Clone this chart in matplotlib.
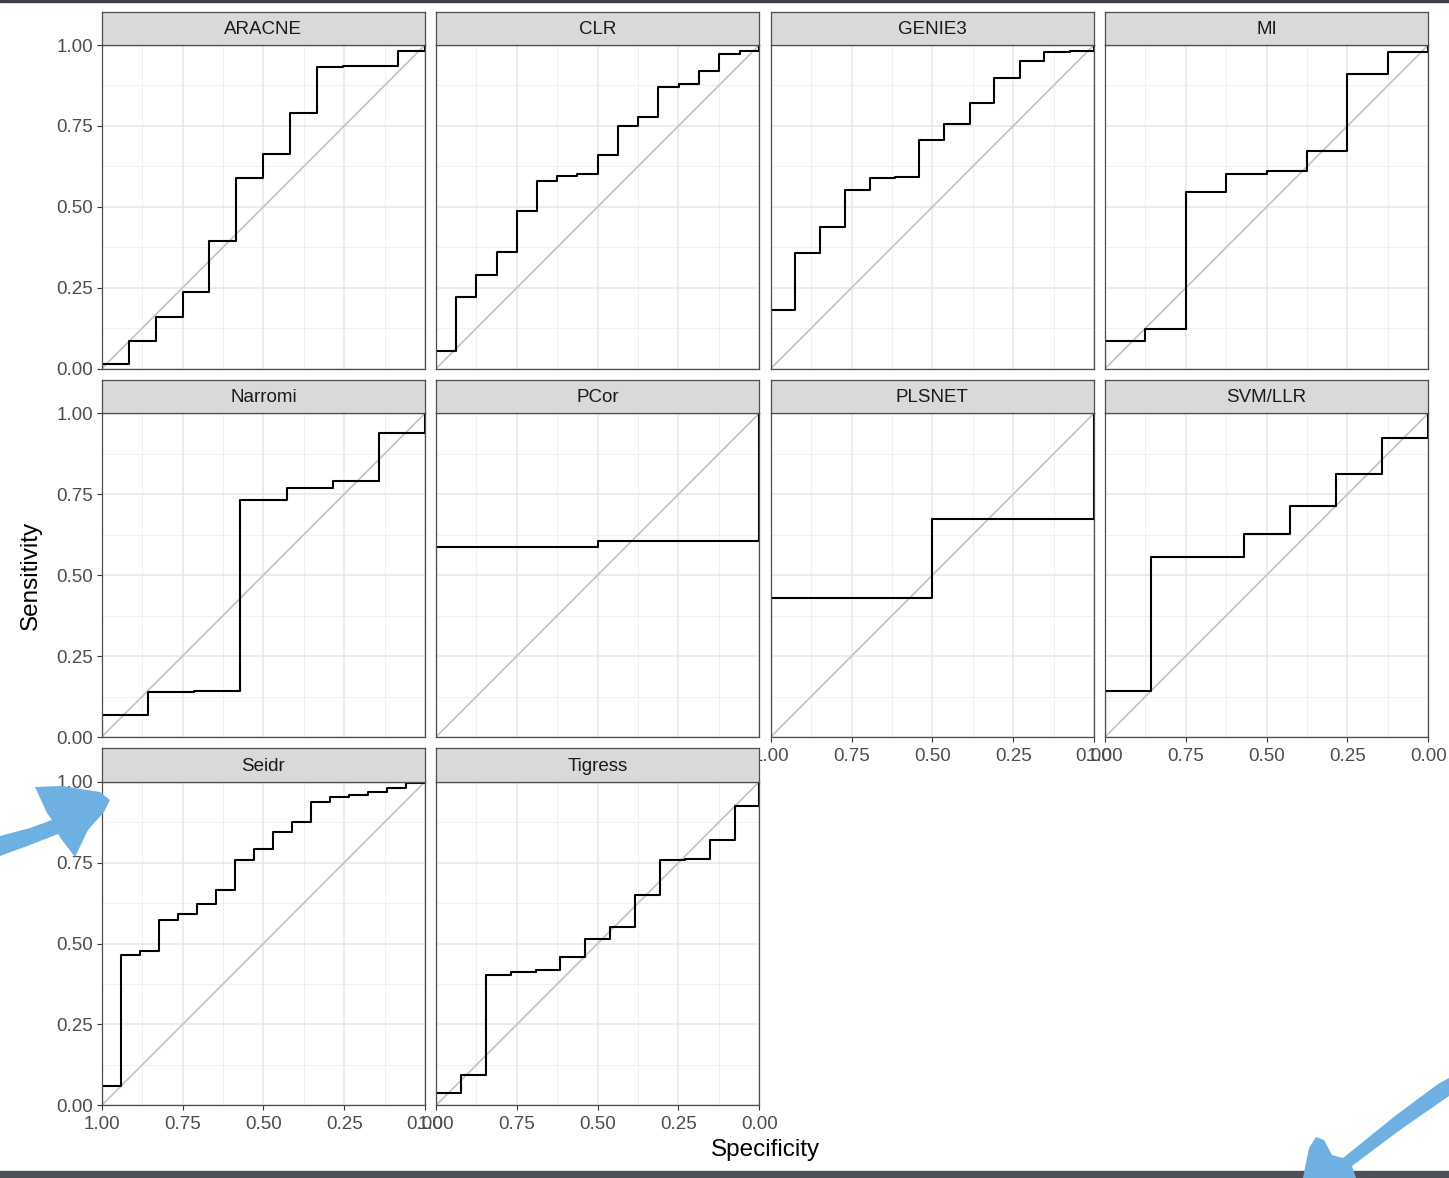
import numpy as np
import matplotlib
matplotlib.use("Agg")
import matplotlib.pyplot as plt
from matplotlib.patches import Polygon, Rectangle

plt.rcParams['font.family'] = ['Liberation Sans', 'DejaVu Sans']

# ROC points per method: specificity / sensitivity pairs, from (1, 0) to (0, 1)
aracne_spec = [1, 1, 0.915, 0.833, 0.75, 0.667, 0.584, 0.5, 0.418, 0.334, 0.253, 0.082, 0]
aracne_sens = [0, 0.015, 0.085, 0.16, 0.237, 0.395, 0.588, 0.662, 0.789, 0.933, 0.936, 0.981, 1]

clr_spec = [1, 1, 0.937, 0.875, 0.812, 0.75, 0.688, 0.625, 0.563, 0.5, 0.436, 0.374, 0.312, 0.249, 0.188, 0.125, 0.06, 0]
clr_sens = [0, 0.055, 0.222, 0.289, 0.359, 0.487, 0.579, 0.594, 0.602, 0.661, 0.751, 0.779, 0.870, 0.880, 0.920, 0.972, 0.981, 1]

genie3_spec = [1, 1, 0.924, 0.847, 0.769, 0.693, 0.617, 0.54, 0.463, 0.385, 0.308, 0.23, 0.154, 0.073, 0]
genie3_sens = [0, 0.180, 0.358, 0.439, 0.552, 0.590, 0.592, 0.707, 0.757, 0.822, 0.899, 0.952, 0.979, 0.981, 1]

mi_spec = [1, 1, 0.875, 0.75, 0.626, 0.5, 0.375, 0.251, 0.126, 0]
mi_sens = [0, 0.085, 0.122, 0.546, 0.601, 0.612, 0.672, 0.911, 0.977, 1]

narromi_spec = [1, 1, 0.856, 0.714, 0.571, 0.428, 0.284, 0.142, 0]
narromi_sens = [0, 0.067, 0.139, 0.141, 0.732, 0.769, 0.791, 0.938, 1]

pcor_spec = [1, 1, 0.5, 0]
pcor_sens = [0, 0.586, 0.604, 1]

plsnet_spec = [1, 1, 0.5, 0]
plsnet_sens = [0, 0.429, 0.673, 1]

svm_spec = [1, 1, 0.857, 0.571, 0.429, 0.286, 0.143, 0]
svm_sens = [0, 0.141, 0.556, 0.627, 0.713, 0.812, 0.924, 1]

seidr_spec = [1, 1, 0.941, 0.881, 0.823, 0.763, 0.704, 0.646, 0.588, 0.529, 0.469, 0.411, 0.353, 0.294, 0.235, 0.176, 0.118, 0.058, 0]
seidr_sens = [0, 0.061, 0.465, 0.476, 0.574, 0.591, 0.621, 0.664, 0.758, 0.791, 0.844, 0.876, 0.938, 0.952, 0.960, 0.969, 0.979, 0.995, 1]

tigress_spec = [1, 1, 0.923, 0.845, 0.768, 0.691, 0.615, 0.538, 0.461, 0.385, 0.307, 0.231, 0.152, 0.075, 0]
tigress_sens = [0, 0.039, 0.095, 0.403, 0.411, 0.418, 0.458, 0.515, 0.551, 0.649, 0.757, 0.762, 0.821, 0.925, 1]

methods = ["ARACNE", "CLR", "GENIE3", "MI", "Narromi", "PCor", "PLSNET", "SVM/LLR", "Seidr", "Tigress"]
curves = [(aracne_spec, aracne_sens), (clr_spec, clr_sens), (genie3_spec, genie3_sens),
          (mi_spec, mi_sens), (narromi_spec, narromi_sens), (pcor_spec, pcor_sens),
          (plsnet_spec, plsnet_sens), (svm_spec, svm_sens), (seidr_spec, seidr_sens),
          (tigress_spec, tigress_sens)]

ticks = [1.00, 0.75, 0.50, 0.25, 0.00]
tick_labels = ["1.00", "0.75", "0.50", "0.25", "0.00"]

W, H = 1449, 1178
fig = plt.figure(figsize=(W / 100, H / 100), dpi=100)
fig.patch.set_facecolor("white")

# facet layout in pixels
lefts = [101.7, 436.0, 770.7, 1105.0]
tops = [45.0, 413.3, 781.7]
pw, ph = 323.3, 323.7
strip_h = 33.3
ncol = 4
n = len(methods)

edge = "#4d4d4d"

for i, (name, (spec, sens)) in enumerate(zip(methods, curves)):
    r, c = divmod(i, ncol)
    x0 = lefts[c]
    y0 = tops[r]
    ax = fig.add_axes([x0 / W, 1 - (y0 + ph) / H, pw / W, ph / H])
    ax.set_xlim(1, 0)
    ax.set_ylim(0, 1)

    # grid like theme_bw
    for v in np.arange(0.125, 1, 0.25):
        ax.axvline(v, color="#f0ecee", lw=0.6, zorder=0)
        ax.axhline(v, color="#f0ecee", lw=0.6, zorder=0)
    for v in ticks:
        ax.axvline(v, color="#ebe6e8", lw=1.1, zorder=0)
        ax.axhline(v, color="#ebe6e8", lw=1.1, zorder=0)

    ax.plot([1, 0], [0, 1], color="#c4c4c4", lw=1.25, zorder=1)
    ax.step(spec, sens, where="post", color="black", lw=1.5, zorder=2)

    for s in ax.spines.values():
        s.set_color(edge)
        s.set_linewidth(0.9)

    ax.set_xticks(ticks)
    ax.set_yticks(ticks)
    ax.tick_params(length=3.6, width=0.8, color="#333333", labelsize=13.5,
                   labelcolor="#4d4d4d", pad=2.5)
    ax.tick_params(axis="x", pad=4)

    # x labels only on the lowest panel of each column
    below = i + ncol
    if below < n:
        ax.tick_params(axis="x", bottom=False, labelbottom=False)
    else:
        ax.set_xticklabels(tick_labels)
    if c == 0:
        ax.set_yticklabels(tick_labels)
    else:
        ax.tick_params(axis="y", left=False, labelleft=False)

    # strip on top of the panel
    sax = fig.add_axes([x0 / W, 1 - y0 / H, pw / W, strip_h / H])
    sax.set_facecolor("#d9d9d9")
    sax.set_xticks([])
    sax.set_yticks([])
    for s in sax.spines.values():
        s.set_color(edge)
        s.set_linewidth(0.9)
    sax.text(0.5, 0.47, name, ha="center", va="center", fontsize=13.5,
             color="#1a1a1a", transform=sax.transAxes)

fig.text(765 / W, 1 - 1150 / H, "Specificity", ha="center", va="center", fontsize=17.5)
fig.text(31 / W, 1 - 575 / H, "Sensitivity", ha="center", va="center",
         fontsize=17.5, rotation=90)

# overlay in pixel units for the frame bands and the hand-drawn arrows
ov = fig.add_axes([0, 0, 1, 1], zorder=10)
ov.set_xlim(0, W)
ov.set_ylim(H, 0)
ov.axis("off")
ov.patch.set_alpha(0)

ov.add_patch(Rectangle((0, 0), W, 2, color="#3c3f47"))
ov.add_patch(Rectangle((0, 1171), W, 7, color="#4e5059"))

blue = "#6fb0e2"
ov.add_patch(Polygon([(0, 836), (30, 828), (52, 820), (47, 813), (35, 787), (62, 786),
                      (100, 792), (110, 800), (104, 812), (88, 830), (75, 857),
                      (62, 840), (58, 834), (30, 845), (0, 856)],
                     closed=True, color=blue, lw=0))
ov.add_patch(Polygon([(1449, 1078), (1449, 1096), (1400, 1130), (1352, 1166), (1356, 1178),
                      (1303, 1178), (1309, 1148), (1316, 1137), (1324, 1140), (1332, 1155),
                      (1343, 1158), (1395, 1116), (1438, 1084)],
                     closed=True, color=blue, lw=0))

fig.savefig("out.png", dpi=100)
